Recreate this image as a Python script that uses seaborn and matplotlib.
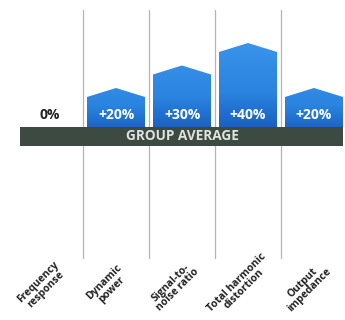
import numpy as np
import pandas as pd
import matplotlib
matplotlib.use("Agg")
import matplotlib.pyplot as plt
from matplotlib.patches import Polygon
from matplotlib.colors import LinearSegmentedColormap
import seaborn as sns

categories = ["Frequency\nresponse", "Dynamic\npower", "Signal-to-\nnoise ratio",
              "Total harmonic\ndistortion", "Output\nimpedance"]
values = [0, 20, 30, 40, 20]
value_labels = ["0%", "+20%", "+30%", "+40%", "+20%"]
band_text = "GROUP AVERAGE"

sns.set_theme(style="white")
plt.rcParams["font.family"] = ["Open Sans", "DejaVu Sans"]

df = pd.DataFrame({"metric": categories, "change": values})

fig = plt.figure(figsize=(3.45, 3.2), dpi=100)
ax = fig.add_axes([0, 0, 1, 1])

sns.barplot(data=df, x="metric", y="change", ax=ax, width=0.88,
            color="#2a80dc", saturation=1, zorder=2)

ax.set_xlim(-0.758, 4.47)
ax.set_ylim(-79.1, 63.1)
ax.axis("off")

# roof-shaped bars with a vertical blue gradient
grad = LinearSegmentedColormap.from_list("blue", ["#1250b4", "#2a84e0", "#3a94ea"])
roof = 4.0
for patch, v in zip(list(ax.patches), values):
    patch.set_visible(False)
    if v <= 0:
        continue
    x0 = patch.get_x()
    w = patch.get_width()
    y0 = patch.get_y()
    h = patch.get_height()
    top = y0 + h
    pts = [(x0, y0), (x0, top), (x0 + w / 2, top + roof), (x0 + w, top), (x0 + w, y0)]
    poly = Polygon(pts, closed=True, facecolor="none", edgecolor="none", zorder=2)
    ax.add_patch(poly)
    g = np.linspace(0, 1, 256).reshape(-1, 1)
    img = ax.imshow(g, cmap=grad, origin="lower", aspect="auto",
                    extent=(x0, x0 + w, y0, top + roof), zorder=2,
                    vmin=0, vmax=1 if v >= 40 else 1 + (40 - v) / 60)
    img.set_clip_path(poly)

# column separators
for xs in [0.5, 1.5, 2.5, 3.5]:
    ax.plot([xs, xs], [-51.6, 58.7], color="#b4b4b4", lw=0.9, zorder=1)

# group average band
ax.fill_between([-0.45, 4.44], -1.8, 6.7, color="#3d4a42", zorder=3, lw=0)
ax.text(2.0, 2.45, band_text, ha="center", va="center", color="#dfe3df",
        fontsize=9.8, fontweight="bold", zorder=4)

# value labels
for i, (v, lab) in enumerate(zip(values, value_labels)):
    col = "#222222" if v == 0 else "white"
    ax.text(i, 12.2, lab, ha="center", va="center", color=col,
            fontsize=10, fontweight="bold", zorder=5)

# rotated category labels
for i, lab in enumerate(categories):
    ax.text(i - 0.12, -64.0, lab, ha="center", va="center", rotation=45,
            rotation_mode="anchor", multialignment="center", color="#222222",
            fontsize=7.5, fontweight="bold", linespacing=0.85)

fig.savefig("out.png", dpi=100)
